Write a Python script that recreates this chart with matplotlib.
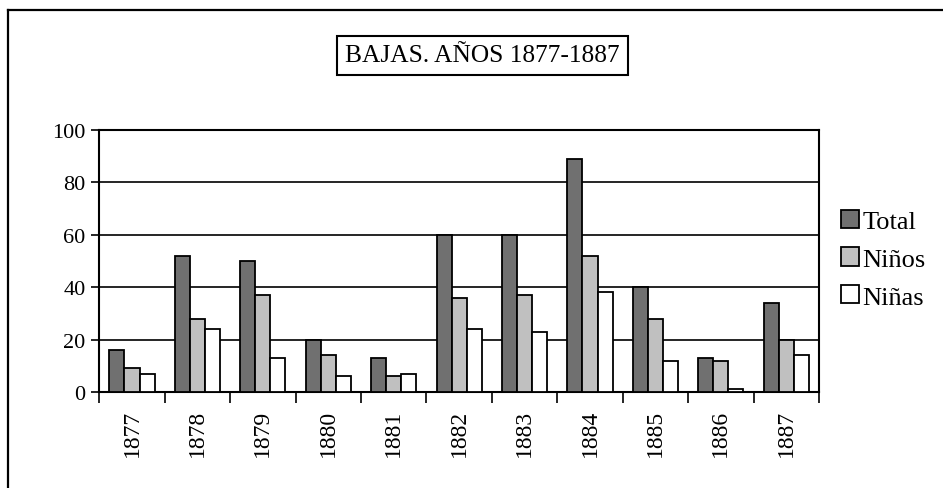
import numpy as np
import matplotlib
matplotlib.use('Agg')
import matplotlib.pyplot as plt
from matplotlib.lines import Line2D

years  = ['1877', '1878', '1879', '1880', '1881', '1882', '1883', '1884', '1885', '1886', '1887']
total  = [16, 52, 50, 20, 13, 60, 60, 89, 40, 13, 34]
ninos  = [9, 28, 37, 14, 6, 36, 37, 52, 28, 12, 20]
ninas  = [7, 24, 13, 6, 7, 24, 23, 38, 12, 1, 14]
labels = ['Total', 'Niños', 'Niñas']
colors = ['#707070', '#c0c0c0', '#ffffff']

plt.rcParams['font.family'] = ['Liberation Serif', 'DejaVu Serif']

fig = plt.figure(figsize=(9.43, 4.89), dpi=100)
ax = fig.add_axes([0.1053, 0.1963, 0.7632, 0.5358])

x = np.arange(len(years))
w = 0.23
for i, (vals, lab, col) in enumerate(zip([total, ninos, ninas], labels, colors)):
    ax.bar(x + (i - 1) * w, vals, w, color=col, edgecolor='black', linewidth=1.3,
           label=lab, zorder=3)

ax.set_xlim(-0.5, len(years) - 0.5)
ax.set_ylim(0, 100)
ax.set_yticks(np.arange(0, 101, 20))
ax.yaxis.grid(True, color='black', linewidth=1.2, zorder=0)
ax.tick_params(axis='y', direction='out', length=6, width=1.2, labelsize=16, pad=4)

ax.set_xticks(x)
ax.set_xticklabels(years, rotation=90, fontsize=17)
ax.tick_params(axis='x', which='major', length=0, pad=12)
ax.set_xticks(np.arange(-0.5, len(years), 1), minor=True)
ax.tick_params(axis='x', which='minor', direction='out', length=8, width=1.2)

for s in ax.spines.values():
    s.set_color('black')
    s.set_linewidth(1.5)

leg = fig.legend(loc='center left', bbox_to_anchor=(0.892, 0.468), frameon=False,
                 fontsize=19, handlelength=0.68, handleheight=0.68, handletextpad=0.12,
                 labelspacing=0.55, borderpad=0, borderaxespad=0)
for p in leg.get_patches():
    p.set_linewidth(1.3)

fig.text(0.5115, 0.885, 'BAJAS. AÑOS 1877-1887', ha='center', va='center', fontsize=18.3,
         bbox=dict(boxstyle='square,pad=0.33', facecolor='white', edgecolor='black', linewidth=1.5))

# outer chart frame (only left and top edges visible)
fig.add_artist(Line2D([0.0085, 0.0085], [0.0, 0.9775], color='black', linewidth=1.6))
fig.add_artist(Line2D([0.0085, 1.0], [0.9775, 0.9775], color='black', linewidth=1.6))

fig.savefig('out.png', dpi=100)
